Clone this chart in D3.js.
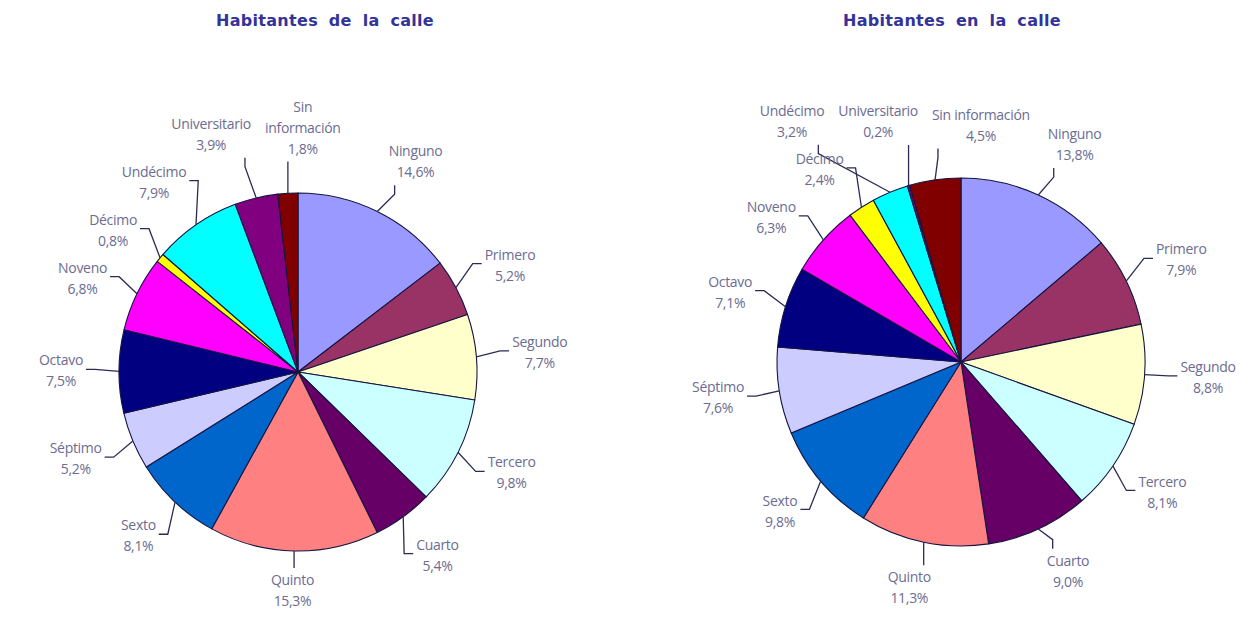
<!DOCTYPE html>
<html>
<head>
<meta charset="utf-8">
<script src="https://cdn.jsdelivr.net/npm/d3@7"></script>
<style>
  body { margin: 0; background: #fff; }
  svg { display: block; }
</style>
</head>
<body>
<svg id="chart" width="1258" height="620"></svg>
<script>
// nivel educativo, same order for both pies (clockwise from 12 o'clock)
const categories = ['Ninguno', 'Primero', 'Segundo', 'Tercero', 'Cuarto', 'Quinto', 'Sexto',
  'Séptimo', 'Octavo', 'Noveno', 'Décimo', 'Undécimo', 'Universitario', 'Sin información'];
const colors = ['#9999ff', '#993366', '#ffffcc', '#ccffff', '#660066', '#ff8080', '#0066cc',
  '#ccccff', '#000080', '#ff00ff', '#ffff00', '#00ffff', '#800080', '#800000'];
const deLaCalle = [14.6, 5.2, 7.7, 9.8, 5.4, 15.3, 8.1, 5.2, 7.5, 6.8, 0.8, 7.9, 3.9, 1.8];
const enLaCalle = [13.8, 7.9, 8.8, 8.1, 9.0, 11.3, 9.8, 7.6, 7.1, 6.3, 2.4, 3.2, 0.2, 4.5];

const charts = [
  { title: 'Habitantes de la calle', values: deLaCalle, cx: 298, cy: 372, r: 179, titleX: 325, wrap: true },
  { title: 'Habitantes en la calle', values: enLaCalle, cx: 961, cy: 362, r: 184, titleX: 952, wrap: false }
];

const W = 1258, H = 620;
const svg = d3.select('#chart');
const locale = d3.formatLocale({ decimal: ',', thousands: '.', grouping: [3], currency: ['', ''] });
const fmt = locale.format('.1f');
const pie = d3.pie().sort(null).value(d => d.value);
const lineH = 21;

charts.forEach(drawPie);

function drawPie(c) {
  svg.append('text')
    .attr('x', c.titleX).attr('y', 26)
    .attr('text-anchor', 'middle')
    .attr('font-family', 'DejaVu Sans, Verdana, sans-serif')
    .attr('font-weight', 'bold')
    .attr('font-size', 16).attr('letter-spacing', 0.3).attr('word-spacing', 5)
    .attr('fill', '#333399')
    .text(c.title);

  const data = categories.map((name, i) => ({ name, value: c.values[i], color: colors[i] }));
  const arcs = pie(data);
  const g = svg.append('g').attr('transform', `translate(${c.cx},${c.cy})`);
  const arc = d3.arc().innerRadius(0).outerRadius(c.r);

  g.append('g').selectAll('path')
    .data(arcs)
    .join('path')
    .attr('d', arc)
    .attr('fill', d => d.data.color)
    .attr('stroke', '#151540')
    .attr('stroke-width', 1.1)
    .attr('stroke-linejoin', 'round');

  const leaderG = g.append('g');
  const labelG = g.append('g');

  const labels = arcs.map(d => {
    const a = (d.startAngle + d.endAngle) / 2;
    const name = d.data.name;
    const lines = (c.wrap && name.includes(' ') ? name.split(' ') : [name]).concat(fmt(d.data.value) + '%');
    return { d, a, lines, sx: Math.sin(a), sy: -Math.cos(a) };
  });

  // measure label boxes, start them just outside the mid angle
  labels.forEach(l => {
    const t = labelG.append('text')
      .attr('text-anchor', 'middle')
      .attr('font-family', 'Open Sans, sans-serif')
      .attr('font-size', 14)
      .attr('letter-spacing', -0.3)
      .attr('fill', '#6c6c92');
    l.lines.forEach((s, i) => t.append('tspan').attr('x', 0).attr('dy', i ? lineH : 0).text(s));
    l.node = t;
    l.w = d3.max(t.selectAll('tspan').nodes(), n => n.getComputedTextLength());
    l.h = l.lines.length * lineH;
    l.top = Math.abs(l.sx) < 0.5;
    const R = c.r + (l.top && l.sy < 0 ? 32 : 24);
    l.x = R * l.sx + l.sx * (l.w / 2 + 12) * (l.top ? 1.4 : 1);
    l.y = R * l.sy + l.sy * (l.h / 2 + 2);
  });

  // crude collision relaxation: top/bottom labels spread sideways, side labels stack
  const pad = 6, padX = 14;
  for (let it = 0; it < 400; it++) {
    let moved = false;
    for (let i = 0; i < labels.length; i++) {
      for (let j = i + 1; j < labels.length; j++) {
        const a = labels[i], b = labels[j];
        const both = a.top && b.top;
        const ox = Math.min(a.x + a.w / 2, b.x + b.w / 2) - Math.max(a.x - a.w / 2, b.x - b.w / 2) + (both ? padX : pad);
        const oy = Math.min(a.y + a.h / 2, b.y + b.h / 2) - Math.max(a.y - a.h / 2, b.y - b.h / 2) + pad;
        if (ox > 0 && oy > 0) {
          moved = true;
          if (both) {
            const s = a.x < b.x ? -1 : 1;
            a.x += s * ox / 2; b.x -= s * ox / 2;
          } else {
            const s = a.y < b.y ? -1 : 1;
            a.y += s * oy / 2; b.y -= s * oy / 2;
          }
        }
      }
    }
    labels.forEach(l => {
      const px = Math.max(l.x - l.w / 2, Math.min(0, l.x + l.w / 2));
      const py = Math.max(l.y - l.h / 2, Math.min(0, l.y + l.h / 2));
      const dist = Math.hypot(px, py);
      const need = c.r + 22;
      if (dist < need) {
        const ux = dist ? px / dist : l.sx, uy = dist ? py / dist : l.sy;
        l.x += ux * (need - dist); l.y += uy * (need - dist);
        moved = true;
      }
      // stay on the canvas and below the title
      l.x = Math.max(6 - c.cx + l.w / 2, Math.min(W - 6 - c.cx - l.w / 2, l.x));
      l.y = Math.max(76 - c.cy + l.h / 2, Math.min(H - 8 - c.cy - l.h / 2, l.y));
    });
    if (!moved) break;
  }

  labels.forEach(l => {
    l.node.attr('transform', `translate(${l.x},${l.y - l.h / 2 + lineH * 0.72})`);
    const e = [c.r * l.sx, c.r * l.sy];
    let pts;
    if (!l.top) {
      const s = l.x > 0 ? 1 : -1;
      const nearX = l.x - s * (l.w / 2 + 3);
      const ly = l.y + (l.lines.length > 2 ? 0 : -2);
      pts = [e, [nearX - s * 9, ly], [nearX, ly]];
    } else {
      const s = l.y > 0 ? 1 : -1;
      const nearY = l.y - s * (l.h / 2 + 2);
      const lx = Math.max(l.x - l.w / 2 + 6, Math.min(l.x + l.w / 2 - 6, e[0]));
      pts = [e, [lx, nearY - s * 9], [lx, nearY]];
    }
    leaderG.append('path')
      .attr('d', d3.line()(pts))
      .attr('fill', 'none')
      .attr('stroke', '#2b2b55')
      .attr('stroke-width', 1.3);
  });
}
</script>
</body>
</html>
